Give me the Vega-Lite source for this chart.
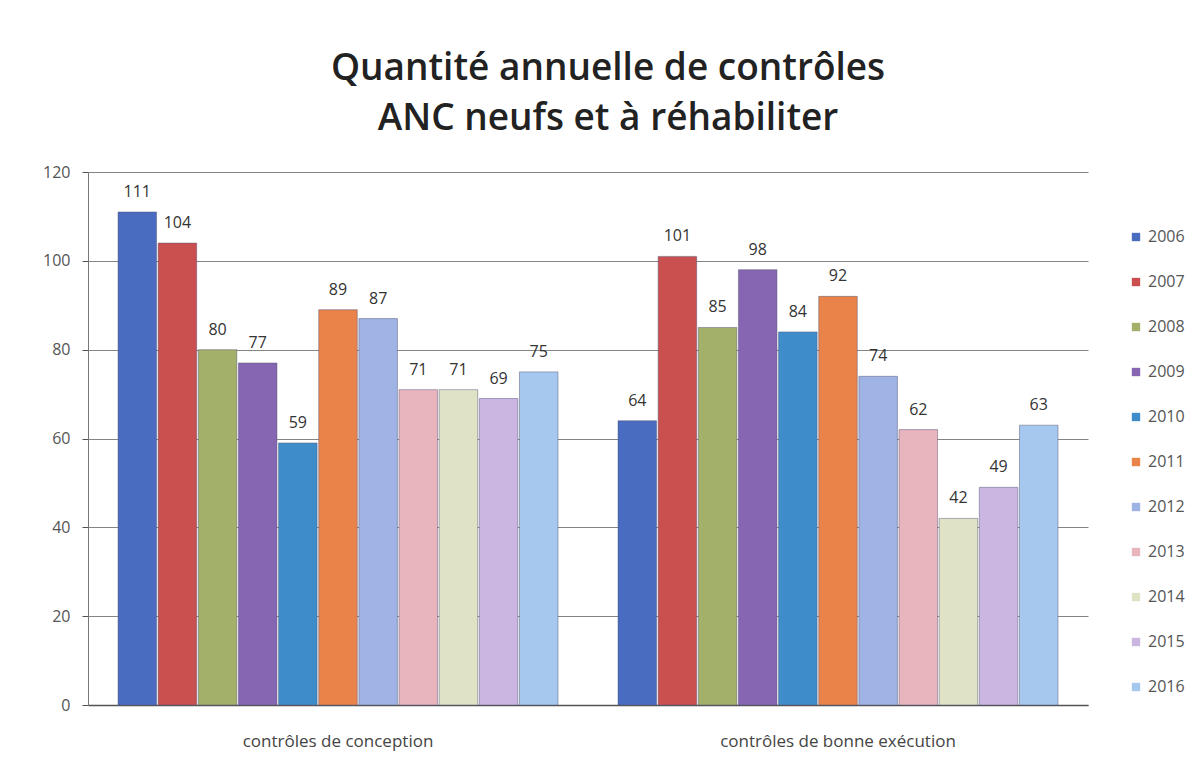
{
  "$schema": "https://vega.github.io/schema/vega-lite/v6.json",
  "autosize": {"type": "none"},
  "width": 1000,
  "height": 533,
  "padding": {"left": 88, "top": 172, "right": 112, "bottom": 56},
  "background": "white",
  "title": {
    "text": ["Quantité annuelle de contrôles", "ANC neufs et à réhabiliter"],
    "font": "Open Sans",
    "fontSize": 37,
    "fontWeight": 600,
    "color": "#222222",
    "lineHeight": 50,
    "anchor": "middle",
    "dx": 20,
    "offset": 26
  },
  "config": {
    "view": {"stroke": null},
    "font": "Open Sans"
  },
  "data": {
    "values": [
      {"type": "contrôles de conception", "year": "2006", "value": 111},
      {"type": "contrôles de conception", "year": "2007", "value": 104},
      {"type": "contrôles de conception", "year": "2008", "value": 80},
      {"type": "contrôles de conception", "year": "2009", "value": 77},
      {"type": "contrôles de conception", "year": "2010", "value": 59},
      {"type": "contrôles de conception", "year": "2011", "value": 89},
      {"type": "contrôles de conception", "year": "2012", "value": 87},
      {"type": "contrôles de conception", "year": "2013", "value": 71},
      {"type": "contrôles de conception", "year": "2014", "value": 71},
      {"type": "contrôles de conception", "year": "2015", "value": 69},
      {"type": "contrôles de conception", "year": "2016", "value": 75},
      {"type": "contrôles de bonne exécution", "year": "2006", "value": 64},
      {"type": "contrôles de bonne exécution", "year": "2007", "value": 101},
      {"type": "contrôles de bonne exécution", "year": "2008", "value": 85},
      {"type": "contrôles de bonne exécution", "year": "2009", "value": 98},
      {"type": "contrôles de bonne exécution", "year": "2010", "value": 84},
      {"type": "contrôles de bonne exécution", "year": "2011", "value": 92},
      {"type": "contrôles de bonne exécution", "year": "2012", "value": 74},
      {"type": "contrôles de bonne exécution", "year": "2013", "value": 62},
      {"type": "contrôles de bonne exécution", "year": "2014", "value": 42},
      {"type": "contrôles de bonne exécution", "year": "2015", "value": 49},
      {"type": "contrôles de bonne exécution", "year": "2016", "value": 63}
    ]
  },
  "encoding": {
    "x": {
      "field": "type",
      "type": "nominal",
      "sort": ["contrôles de conception", "contrôles de bonne exécution"],
      "scale": {"paddingInner": 0.12, "paddingOuter": 0.06},
      "axis": {
        "title": null,
        "labelAngle": 0,
        "labelFontSize": 17,
        "labelColor": "#444444",
        "labelPadding": 28,
        "labelLimit": 0,
        "ticks": false,
        "domainColor": "#555555",
        "domainWidth": 1.5
      }
    },
    "xOffset": {
      "field": "year",
      "type": "nominal",
      "scale": {"paddingInner": 0.04}
    },
    "y": {
      "field": "value",
      "type": "quantitative",
      "scale": {"domain": [0, 120]},
      "axis": {
        "title": null,
        "values": [0, 20, 40, 60, 80, 100, 120],
        "labelFontSize": 16,
        "labelColor": "#555555",
        "labelPadding": 12,
        "tickSize": 6,
        "tickColor": "#555555",
        "domainColor": "#777777",
        "gridColor": "#666666",
        "gridWidth": 1.2,
        "gridOpacity": 0.8
      }
    }
  },
  "layer": [
    {
      "mark": {"type": "bar", "stroke": "#555577", "strokeWidth": 0.8, "strokeOpacity": 0.6},
      "encoding": {
        "color": {
          "field": "year",
          "type": "nominal",
          "scale": {
            "domain": ["2006","2007","2008","2009","2010","2011","2012","2013","2014","2015","2016"],
            "range": ["#4a6cc0","#c9504f","#a3b06a","#8666b2","#3f8ccb","#e9834a","#9fb3e4","#e8b4bd","#dfe2c4","#cbb6e2","#a7c8ee"]
          },
          "legend": {
            "title": null,
            "orient": "none",
            "legendX": 1040,
            "legendY": 57,
            "symbolType": "square",
            "symbolSize": 70,
            "symbolStrokeWidth": 0,
            "labelFontSize": 16,
            "labelColor": "#555555",
            "rowPadding": 29,
            "labelOffset": 4
          }
        }
      }
    },
    {
      "mark": {"type": "text", "dy": -20, "fontSize": 16, "color": "#333333"},
      "encoding": {
        "text": {"field": "value", "type": "quantitative"}
      }
    }
  ]
}
